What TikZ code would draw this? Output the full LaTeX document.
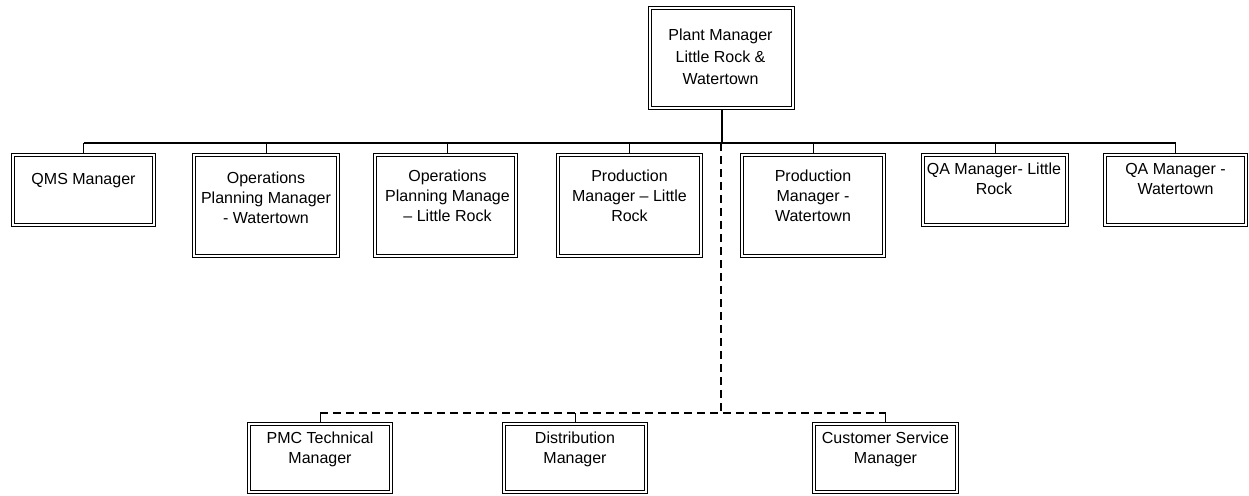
\documentclass[tikz,border=0pt]{standalone}
\usepackage{fontspec}
\setmainfont{Liberation Sans}
\begin{document}
\begin{tikzpicture}[x=1pt,y=1pt,
  box/.style={draw, double, line width=1pt, double distance=2pt, outer sep=2pt, inner sep=0pt},
  txt/.style={anchor=north, inner sep=0pt, align=center, font=\fontsize{16}{20}\selectfont},
  toptxt/.style={txt, font=\fontsize{16}{22}\selectfont},
  bus/.style={line width=1.4pt},
  drop/.style={line width=1pt},
  main/.style={line width=2pt},
  dashline/.style={line width=1.8pt, dash pattern=on 8pt off 5pt}]
\useasboundingbox (0,0) rectangle (1249,-495);

% top box
\node[box, minimum width=143, minimum height=100] (top) at (721.5,-58) {};
\node[toptxt] (ttop) at (720.5,-29) {Plant Manager\\Little Rock \&\\Watertown};

% second row
\node[box, minimum width=141, minimum height=70]  (b1) at (83.5,-190) {};
\node[box, minimum width=144, minimum height=101] (b2) at (266,-205.5) {};
\node[box, minimum width=141, minimum height=101] (b3) at (445.5,-205.5) {};
\node[box, minimum width=143, minimum height=101] (b4) at (629.5,-205.5) {};
\node[box, minimum width=142, minimum height=101] (b5) at (813,-205.5) {};
\node[box, minimum width=144, minimum height=70]  (b6) at (995,-190) {};
\node[box, minimum width=141, minimum height=70]  (b7) at (1175.5,-190) {};

\node[txt] (t1) at (83.5,-173) {QMS Manager};
\node[txt] (t2) at (266,-172) {Operations\\Planning Manager\\- Watertown};
\node[txt] (t3) at (447.5,-170) {Operations\\Planning Manage\\– Little Rock};
\node[txt] (t4) at (629.5,-170) {Production\\Manager – Little\\Rock};
\node[txt] (t5) at (813,-170) {Production\\Manager -\\Watertown};
\node[txt] (t6) at (994,-163) {QA Manager- Little\\Rock};
\node[txt] (t7) at (1175.5,-163) {QA Manager -\\Watertown};

% bottom row
\node[box, minimum width=142, minimum height=68] (c1) at (320,-458) {};
\node[box, minimum width=142, minimum height=68] (c2) at (575,-458) {};
\node[box, minimum width=143, minimum height=68] (c3) at (885.5,-458) {};

\node[txt] (s1) at (320,-432) {PMC Technical\\Manager};
\node[txt] (s2) at (575,-432) {Distribution\\Manager};
\node[txt] (s3) at (885.5,-432) {Customer Service\\Manager};

% connectors
\coordinate (bus) at (721,-143);
\coordinate (dj) at (721,-413);

\draw[main] (top.south) -- (top.south |- bus);
\draw[bus] (b1.north |- bus) -- (b7.north |- bus);
\foreach \n in {b1,b2,b4,b5,b6,b7}
  \draw[drop] (\n.north) -- (\n.north |- bus);
\draw[drop] ([xshift=2pt]b3.north) -- ([xshift=2pt]b3.north |- bus);

\draw[dashline] (bus) -- (dj);
\draw[dashline] (c1.north |- dj) -- (c3.north |- dj);
\foreach \n in {c1,c2,c3}
  \draw[drop] (\n.north) -- (\n.north |- dj);
\end{tikzpicture}
\end{document}
